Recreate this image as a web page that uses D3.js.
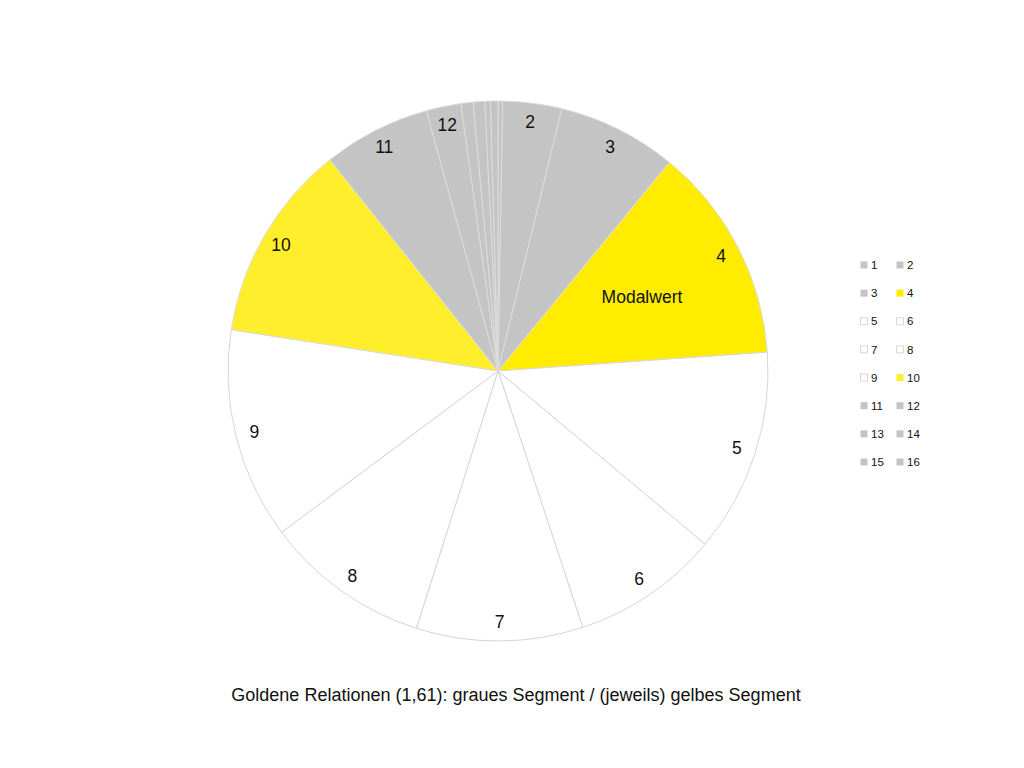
<!DOCTYPE html>
<html>
<head>
<meta charset="utf-8">
<script src="https://cdn.jsdelivr.net/npm/d3@7.9.0/dist/d3.min.js"></script>
<style>
  html, body { margin: 0; padding: 0; background: #fff; }
  svg { display: block; font-family: "Liberation Sans", Arial, sans-serif; }
</style>
</head>
<body>
<div id="chart"></div>
<script>
// Segments 1..16, values (in degrees of the circle)
const categories = ["1", "2", "3", "4", "5", "6", "7", "8", "9", "10", "11", "12", "13", "14", "15", "16"];
const values = [1.0, 12.7, 25.7, 46.6, 43.9, 31.8, 35.9, 35.7, 45.5, 42.7, 23.1, 7.5, 2.6, 2.5, 1.2, 1.6];
const segmentType = ["grau", "grau", "grau", "gelb", "weiss", "weiss", "weiss", "weiss", "weiss", "gelb2",
                     "grau", "grau", "grau", "grau", "grau", "grau"];
const showLabel = [false, true, true, true, true, true, true, true, true, true, true, true, false, false, false, false];
const title = "Goldene Relationen (1,61): graues Segment / (jeweils) gelbes Segment";
const annotation = "Modalwert";

const width = 1024, height = 768;
const cx = 498, cy = 371, radius = 270;

const fillColor = d3.scaleOrdinal()
  .domain(["grau", "gelb", "gelb2", "weiss"])
  .range(["#c4c4c4", "#ffec00", "#ffee2b", "#ffffff"]);

const svg = d3.select("#chart").append("svg")
  .attr("width", width)
  .attr("height", height);

const data = categories.map((c, i) => ({ cat: c, value: values[i], type: segmentType[i], label: showLabel[i] }));

const pie = d3.pie().sort(null).value(d => d.value);
const arcs = pie(data);

const arc = d3.arc().innerRadius(0).outerRadius(radius);
const labelArc = d3.arc().innerRadius(251).outerRadius(251);
const noteArc = d3.arc().innerRadius(162).outerRadius(162);

const g = svg.append("g").attr("transform", `translate(${cx},${cy})`);

g.selectAll("path.slice")
  .data(arcs)
  .enter().append("path")
  .attr("class", "slice")
  .attr("d", arc)
  .style("fill", d => fillColor(d.data.type))
  .style("stroke", d => d.data.type === "weiss" ? "#d6d6d6" : "#dcdcdc")
  .style("stroke-width", "1px");

g.selectAll("text.lbl")
  .data(arcs.filter(d => d.data.label))
  .enter().append("text")
  .attr("class", "lbl")
  .attr("transform", d => `translate(${labelArc.centroid(d)})`)
  .attr("text-anchor", "middle")
  .attr("dy", "0.35em")
  .style("font-size", "17.5px")
  .style("fill", "#111")
  .text(d => d.data.cat);

// "Modalwert" inside the biggest segment
const modal = arcs.reduce((a, b) => (b.value > a.value ? b : a));
g.append("text")
  .attr("transform", `translate(${noteArc.centroid(modal)})`)
  .attr("text-anchor", "middle")
  .attr("dy", "0.35em")
  .style("font-size", "17.5px")
  .style("fill", "#111")
  .text(annotation);

// Legend, two columns
const legX = d3.scalePoint().domain([0, 1]).range([864, 900]);
const legY = d3.scaleLinear().domain([0, 7]).range([265, 462]);

const leg = svg.selectAll("g.leg")
  .data(data)
  .enter().append("g")
  .attr("class", "leg")
  .attr("transform", (d, i) => `translate(${legX(i % 2)},${legY(Math.floor(i / 2))})`);

leg.append("rect")
  .attr("x", -3.5).attr("y", -3.5)
  .attr("width", 7).attr("height", 7)
  .style("fill", d => fillColor(d.type))
  .style("stroke", d => d.type === "weiss" ? "#c8c8c8" : "none")
  .style("stroke-width", "0.7px");

leg.append("text")
  .attr("x", 7)
  .attr("dy", "0.36em")
  .style("font-size", "11.5px")
  .style("fill", "#111")
  .text(d => d.cat);

svg.append("text")
  .attr("x", 516)
  .attr("y", 701)
  .attr("text-anchor", "middle")
  .style("font-size", "18px")
  .style("fill", "#111")
  .text(title);
</script>
</body>
</html>
